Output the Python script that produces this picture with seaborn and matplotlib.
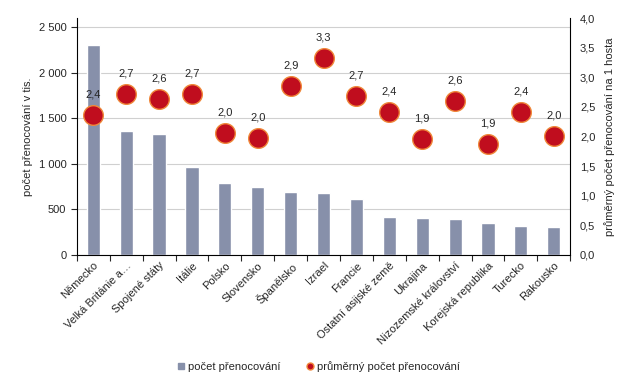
import matplotlib
matplotlib.use("Agg")
import matplotlib.pyplot as plt
from matplotlib.lines import Line2D
from matplotlib.ticker import FuncFormatter, FixedLocator, NullFormatter
import seaborn as sns
import pandas as pd

# data
zeme = ['Německo', 'Velká Británie a…', 'Spojené státy', 'Itálie', 'Polsko',
        'Slovensko', 'Španělsko', 'Izrael', 'Francie', 'Ostatní asijské země',
        'Ukrajina', 'Nizozemské království', 'Korejská republika', 'Turecko', 'Rakousko']
prenocovani = [2300, 1360, 1330, 960, 790, 745, 690, 680, 612, 416, 405, 394, 350, 317, 306]
prumer = [2.36, 2.72, 2.64, 2.72, 2.06, 1.98, 2.85, 3.33, 2.68, 2.42, 1.96, 2.60, 1.88, 2.42, 2.01]
prumer_popisky = ['2,4', '2,7', '2,6', '2,7', '2,0', '2,0', '2,9', '3,3', '2,7', '2,4',
                  '1,9', '2,6', '1,9', '2,4', '2,0']

df = pd.DataFrame({'zeme': zeme, 'pocet': prenocovani, 'prumer': prumer})

sns.set_style('white')
plt.rcParams['font.family'] = ['Liberation Sans', 'DejaVu Sans']

barva_sloupce = '#8790aa'
barva_bodu = '#c00d1e'
barva_okraje = '#f0883a'

fig = plt.figure(figsize=(6.35, 3.85), dpi=100)
ax = fig.add_axes([0.121, 0.338, 0.777, 0.615])

sns.barplot(data=df, x='zeme', y='pocet', color=barva_sloupce, width=0.4,
            saturation=1, ax=ax, zorder=2)

ax2 = ax.twinx()
sns.scatterplot(data=df, x='zeme', y='prumer', color=barva_bodu, s=200,
                edgecolor=barva_okraje, linewidth=1, ax=ax2, zorder=3, legend=False)

# leva osa
ax.set_ylim(0, 2600)
ax.set_yticks([0, 500, 1000, 1500, 2000, 2500])
ax.yaxis.set_major_formatter(FuncFormatter(lambda v, p: f'{int(v):,}'.replace(',', ' ')))
ax.grid(axis='y', color='#d0d0d0', linewidth=0.8, zorder=0)
ax.set_axisbelow(True)
ax.tick_params(axis='y', length=4, width=0.8, direction='out', left=True, labelsize=8)
ax.set_xlabel('')
ax.set_ylabel('počet přenocování v tis.', fontsize=8, labelpad=4)
for s in ['top', 'right']:
    ax.spines[s].set_visible(False)
for s in ['left', 'bottom']:
    ax.spines[s].set_color('black')
    ax.spines[s].set_linewidth(0.8)

# prava osa
ax2.set_ylim(0, 4.0)
ax2.set_yticks([i * 0.5 for i in range(9)])
ax2.yaxis.set_major_formatter(FuncFormatter(lambda v, p: f'{v:.1f}'.replace('.', ',')))
ax2.tick_params(axis='y', length=0, labelsize=8, pad=7)
ax2.set_ylabel('průměrný počet přenocování na 1 hosta', fontsize=8, labelpad=6)
ax2.set_xlabel('')
ax2.grid(False)
for s in ['top', 'left', 'bottom']:
    ax2.spines[s].set_visible(False)
ax2.spines['right'].set_color('black')
ax2.spines['right'].set_linewidth(0.8)

# osa x: popisky na stredy, carky mezi kategoriemi
ax.set_xlim(-0.5, len(zeme) - 0.5)
ax.xaxis.set_major_locator(FixedLocator([i - 0.5 for i in range(len(zeme) + 1)]))
ax.xaxis.set_major_formatter(NullFormatter())
ax.set_xticks(range(len(zeme)), minor=True)
ax.set_xticklabels(zeme, minor=True, rotation=45, ha='right', rotation_mode='anchor', fontsize=8)
ax.tick_params(axis='x', which='major', length=4, width=0.8, direction='out', bottom=True)
ax.tick_params(axis='x', which='minor', length=0, pad=4)
ax2.tick_params(axis='x', which='both', length=0, labelbottom=False, labeltop=False)

for i, (v, t) in enumerate(zip(prumer, prumer_popisky)):
    ax2.annotate(t, (i, v), xytext=(0, 11), textcoords='offset points',
                 ha='center', va='bottom', fontsize=8)

handles = [
    Line2D([], [], marker='s', linestyle='', color=barva_sloupce, markersize=5),
    Line2D([], [], marker='o', linestyle='', color=barva_bodu, markeredgecolor=barva_okraje,
           markersize=5),
]
fig.legend(handles, ['počet přenocování', 'průměrný počet přenocování'],
           loc='center', bbox_to_anchor=(0.5, 0.049), ncol=2, frameon=False,
           fontsize=8, handletextpad=0.1, columnspacing=2.2, handlelength=1)

fig.savefig('out.png', dpi=100)
